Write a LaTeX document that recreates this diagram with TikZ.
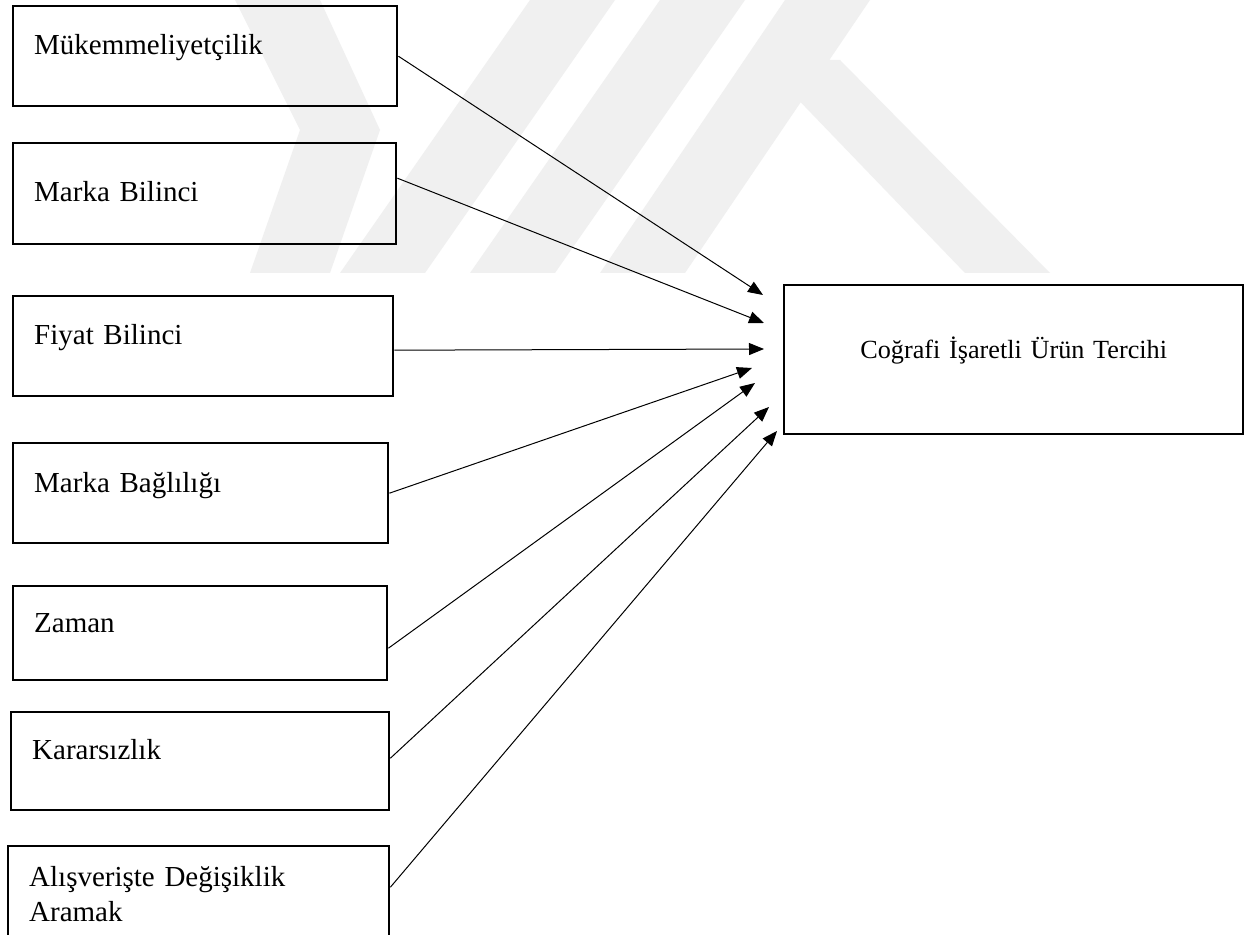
\documentclass[tikz,border=0pt]{standalone}
\usepackage{fontspec}
\setmainfont{Liberation Serif}
\usetikzlibrary{arrows.meta}
\begin{document}
\begin{tikzpicture}[x=0.5pt,y=-0.5pt,
  box/.style={draw=black, line width=1.2pt, rectangle, anchor=north west,
    inner xsep=10.5pt, inner ysep=0pt, align=left,
    font=\fontsize{14.5}{17.5}\selectfont},
  goal/.style={draw=black, line width=1.2pt, rectangle, anchor=north west,
    inner sep=0pt, align=center, font=\fontsize{13.1}{15.7}\selectfont},
  arr/.style={-{Triangle[length=7.5pt,width=6pt]}, line width=0.5pt},
  wm/.style={fill=black!6, draw=none}]
\clip (0,0) rectangle (1249,935);
\fill[white] (0,0) rectangle (1249,935);
% faint watermark
\fill[wm] (235,0) -- (320,0) -- (380,130) -- (330,273) -- (250,273) -- (300,130) -- cycle;
\fill[wm] (340,273) -- (425,273) -- (615,0) -- (530,0) -- cycle;
\fill[wm] (470,273) -- (555,273) -- (745,0) -- (660,0) -- cycle;
\fill[wm] (600,273) -- (685,273) -- (870,0) -- (785,0) -- cycle;
\fill[wm] (760,60) -- (840,60) -- (1050,273) -- (965,273) -- cycle;
% boxes
\node[box, text width=171pt, text height=24pt, text depth=26pt] (m1) at (12,5) {Mükemmeliyetçilik};
\node[box, text width=170.5pt, text height=29pt, text depth=21.5pt] (m2) at (12,142) {Marka Bilinci};
\node[box, text width=169pt, text height=24pt, text depth=26pt] (m3) at (12,295) {Fiyat Bilinci};
\node[box, text width=166.5pt, text height=24.5pt, text depth=25.5pt] (m4) at (12,442) {Marka Bağlılığı};
\node[box, text width=166pt, text height=23pt, text depth=24pt] (m5) at (12,585) {Zaman};
\node[box, text width=168pt, text height=23.5pt, text depth=25.5pt] (m6) at (10,711) {Kararsızlık};
\node[box, text width=169.5pt, text height=20pt, text depth=30pt] (m7) at (7,845) {Alışverişte Değişiklik\\Aramak};
\node[goal, text width=229.5pt, text height=36.5pt, text depth=38pt] (t) at (783,284) {Coğrafi İşaretli Ürün Tercihi};
% arrow ends
\coordinate (e1) at (763,295);
\coordinate (e2) at (764,323);
\coordinate (e3) at (764,349);
\coordinate (e4) at (752,368);
\coordinate (e5) at (755,383);
\coordinate (e6) at (769,407);
\coordinate (e7) at (777,431);
\draw[arr] (m1.east) -- (e1);
\draw[arr] ([yshift=7.75pt]m2.east) -- (e2);
\draw[arr] ([yshift=-2pt]m3.east) -- (e3);
\draw[arr] (m4.east) -- (e4);
\draw[arr] ([yshift=-7.5pt]m5.east) -- (e5);
\draw[arr] ([yshift=1.5pt]m6.east) -- (e6);
\draw[arr] ([yshift=4.5pt]m7.east) -- (e7);
\end{tikzpicture}
\end{document}
